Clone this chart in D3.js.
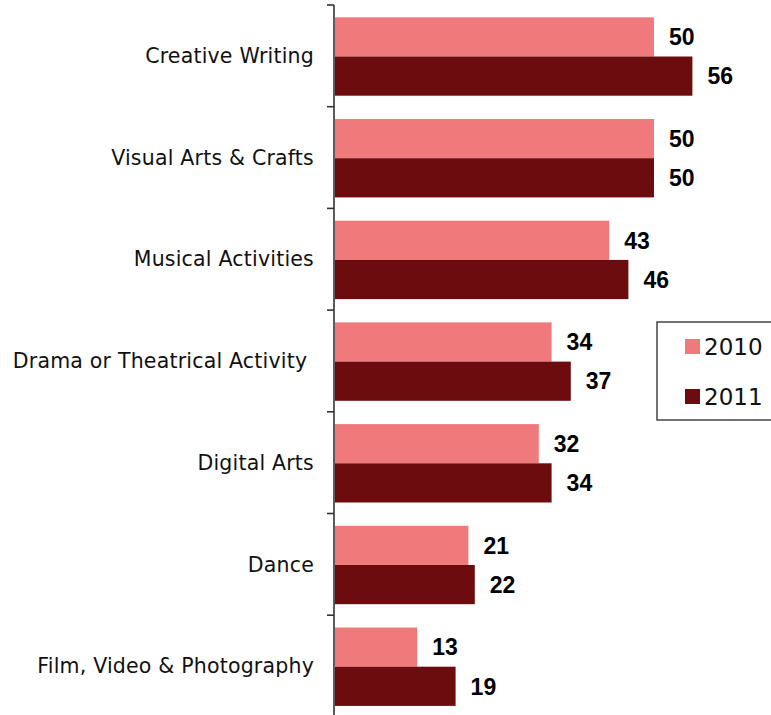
<!DOCTYPE html>
<html><head><meta charset="utf-8">
<script src="https://cdn.jsdelivr.net/npm/d3@7"></script>
<style>html,body{margin:0;padding:0;background:#fff;overflow:hidden}</style>
</head><body>
<svg id="chart" width="771" height="715"></svg>
<script>
const categories = ["Creative Writing","Visual Arts & Crafts","Musical Activities","Drama or Theatrical Activity ","Digital Arts","Dance","Film, Video & Photography"];
const series = ["2010","2011"];
const values2010 = [50,50,43,34,32,21,13];
const values2011 = [56,50,46,37,34,22,19];
const colors = ["#F07A7B","#6C0C0F"];

const svg = d3.select("#chart");
const x0 = 334;
const x = d3.scaleLinear().domain([0,10]).range([x0, x0+64]);
const y = d3.scaleBand().domain(categories).range([5, 5+7*101.7]).paddingInner(0).paddingOuter(0);
const yInner = d3.scaleBand().domain(series).range([12.3, 90.7]).padding(0);

const data = categories.map((c,i)=>({cat:c, vals:[values2010[i], values2011[i]]}));

const groups = svg.selectAll("g.cat").data(data).enter().append("g")
  .attr("class","cat").attr("transform", d=>`translate(0,${y(d.cat)})`);

groups.selectAll("rect").data(d=>d.vals.map((v,j)=>({v, s:series[j], j}))).enter().append("rect")
  .attr("x", x(0)+1)
  .attr("y", d=>yInner(d.s))
  .attr("width", d=>x(d.v)-x(0)-1)
  .attr("height", yInner.bandwidth())
  .attr("fill", d=>colors[d.j]);

groups.selectAll("text.val").data(d=>d.vals.map((v,j)=>({v, s:series[j]}))).enter().append("text")
  .attr("class","val")
  .attr("x", d=>x(d.v)+15)
  .attr("y", d=>yInner(d.s)+yInner.bandwidth()/2)
  .attr("dy","0.36em")
  .attr("font-family","'Liberation Sans', Arial, sans-serif")
  .attr("font-weight","bold")
  .attr("font-size","23px")
  .attr("fill","#000")
  .text(d=>d.v);

// axis
const axis = d3.axisLeft(y).tickSize(0).tickFormat("");
const ag = svg.append("g").attr("transform",`translate(${x0},0)`).call(axis);
ag.select(".domain").remove();
ag.append("line").attr("x1",0).attr("x2",0).attr("y1",y.range()[0]).attr("y2",715)
  .attr("stroke","#333").attr("stroke-width",1.6);
const tickYs = d3.range(categories.length+1).map(i=>y.range()[0]+i*y.step());
ag.selectAll("line.tk").data(tickYs).enter().append("line").attr("class","tk")
  .attr("x1",-7).attr("x2",0).attr("y1",d=>d).attr("y2",d=>d)
  .attr("stroke","#333").attr("stroke-width",1.6);

// category labels
svg.selectAll("text.cat").data(categories).enter().append("text")
  .attr("class","cat")
  .attr("x", 314)
  .attr("y", d=>y(d)+y.bandwidth()/2)
  .attr("dy","0.35em")
  .attr("text-anchor","end")
  .attr("font-family","'DejaVu Sans', sans-serif")
  .attr("font-size","20.5px")
  .attr("letter-spacing","0.2px")
  .attr("fill","#111")
  .style("white-space","pre")
  .text(d=>d);

// legend
const lg = svg.append("g");
lg.append("rect").attr("x",657).attr("y",322).attr("width",140).attr("height",98)
  .attr("fill","#fff").attr("stroke","#444").attr("stroke-width",1.5);
series.forEach((s,i)=>{
  const yy = 339 + i*50;
  lg.append("rect").attr("x",685).attr("y",yy).attr("width",15).attr("height",15).attr("fill",colors[i]);
  lg.append("text").attr("x",704).attr("y",yy+7.5).attr("dy","0.36em")
    .attr("font-family","'DejaVu Sans', sans-serif").attr("font-size","23px").attr("fill","#111").text(s);
});
</script>
</body></html>
